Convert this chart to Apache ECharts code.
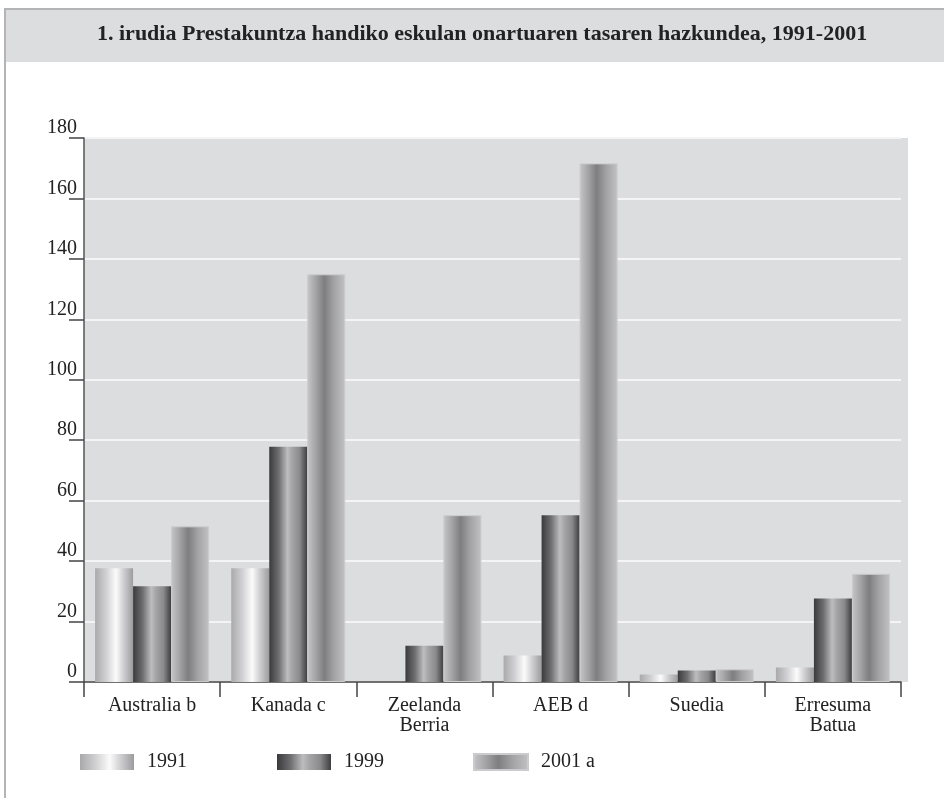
<!DOCTYPE html>
<html>
<head>
<meta charset="utf-8">
<script src="https://cdn.jsdelivr.net/npm/echarts@6/dist/echarts.min.js"></script>
<style>
  html, body { margin: 0; padding: 0; background: #fff; }
  #chart { width: 944px; height: 798px; }
</style>
</head>
<body>
<div id="chart"></div>
<script>
const titleText = '1. irudia Prestakuntza handiko eskulan onartuaren tasaren hazkundea, 1991-2001';
const categories = ['Australia b', 'Kanada c', 'Zeelanda\nBerria', 'AEB d', 'Suedia', 'Erresuma\nBatua'];
const seriesNames = ['1991', '1999', '2001 a'];
const values1991 = [37.6, 37.6, null, 8.8, 2.5, 4.8];
const values1999 = [31.7, 77.8, 12, 55.2, 3.8, 27.6];
const values2001 = [51.5, 134.9, 55.2, 171.6, 4.2, 35.8];
const yMin = 0;
const yMax = 180;
const yStep = 20;

const serif = '"Liberation Serif", "DejaVu Serif", serif';

const grad = (stops) => new echarts.graphic.LinearGradient(0, 0, 1, 0,
  stops.map(([offset, color]) => ({ offset, color })));

const fills = [
  grad([[0, '#a9a9ab'], [0.3, '#d2d2d4'], [0.55, '#fbfbfb'], [0.75, '#cfcfd1'], [1, '#9c9c9e']]),
  grad([[0, '#3a3a3c'], [0.25, '#6e6e70'], [0.48, '#bdbdbf'], [0.6, '#a5a5a7'], [0.8, '#8a8a8c'], [1, '#3e3e40']]),
  grad([[0, '#c6c6c8'], [0.2, '#a8a8aa'], [0.45, '#7e7e80'], [0.7, '#a2a2a4'], [1, '#c2c2c4']])
];
const dataSets = [values1991, values1999, values2001];
const legendLefts = [80, 277, 473];

const chart = echarts.init(document.getElementById('chart'));
chart.setOption({
  animation: false,
  backgroundColor: '#fff',
  graphic: [
    { type: 'rect', z: -10, shape: { x: 5, y: 9, width: 960, height: 820 },
      style: { fill: '#fff', stroke: '#b4b4b6', lineWidth: 2 } },
    { type: 'rect', z: -9, shape: { x: 6, y: 10, width: 960, height: 52 },
      style: { fill: '#dcdddf' } },
    { type: 'rect', z: -8, shape: { x: 84, y: 138, width: 824, height: 544 },
      style: { fill: '#dcdddf' } },
    { type: 'text', z: 10, left: 97, top: 23,
      style: { text: titleText, font: 'bold 22px ' + serif, fill: '#222' } }
  ],
  grid: { left: 84, right: 43, top: 138, bottom: 116 },
  legend: seriesNames.map((name, i) => ({
    left: legendLefts[i], top: 752, padding: 0,
    icon: 'rect', itemWidth: 54, itemHeight: 16,
    textStyle: { fontFamily: serif, fontSize: 20, color: '#222', padding: [0, 0, 0, 8] },
    data: [name]
  })),
  xAxis: {
    type: 'category',
    data: categories,
    axisLine: { lineStyle: { color: '#444', width: 1.5 } },
    axisTick: { show: true, length: 15, lineStyle: { color: '#444', width: 1.5 } },
    axisLabel: { fontFamily: serif, fontSize: 20, color: '#222', lineHeight: 20, margin: 14, interval: 0 },
    splitLine: { show: false }
  },
  yAxis: {
    type: 'value',
    min: yMin, max: yMax, interval: yStep,
    axisLine: { show: true, lineStyle: { color: '#555', width: 1.5 } },
    axisTick: { show: true, length: 15, lineStyle: { color: '#444', width: 1.5 } },
    axisLabel: { fontFamily: serif, fontSize: 20, color: '#222', margin: 7, verticalAlign: 'bottom', lineHeight: 20 },
    splitLine: { lineStyle: { color: '#f4f4f4', width: 2 } }
  },
  series: seriesNames.map((name, i) => ({
    name,
    type: 'bar',
    barWidth: 38,
    barGap: '0%',
    data: dataSets[i],
    itemStyle: { color: fills[i], borderColor: i === 2 ? '#cbcbcd' : 'transparent', borderWidth: i === 2 ? 1 : 0 }
  }))
});
</script>
</body>
</html>
